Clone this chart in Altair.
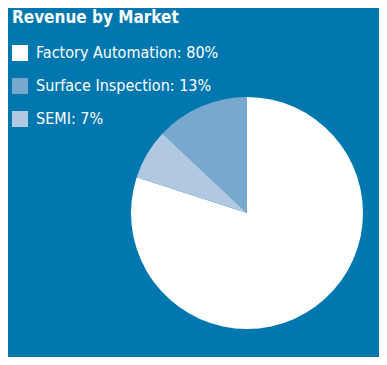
import altair as alt
import pandas as pd

markets = ["Factory Automation", "Surface Inspection", "SEMI"]
shares = [80, 13, 7]
pie_order = [0, 2, 1]  # clockwise drawing order from 12 o'clock
colors = ["#FFFFFF", "#79A8CE", "#B0C8E0"]
title = "Revenue by Market"

labels = [f"{m}: {s}%" for m, s in zip(markets, shares)]
df = pd.DataFrame({"label": labels, "share": shares, "ord": pie_order})

FONT = "DejaVu Sans Condensed"
BG = "#0077AE"

chart = alt.Chart(df).mark_arc(outerRadius=116, stroke=None).encode(
    theta=alt.Theta("share:Q", stack=True),
    order=alt.Order("ord:Q"),
    x=alt.value(239),
    y=alt.value(205),
    color=alt.Color(
        "label:N",
        scale=alt.Scale(domain=labels, range=colors),
        legend=alt.Legend(
            title=title,
            orient="none",
            legendX=4,
            legendY=2,
            symbolType="square",
            symbolSize=256,
            symbolStrokeWidth=0,
            symbolOpacity=1,
            labelFont=FONT,
            labelFontSize=16,
            labelColor="white",
            labelOffset=8,
            labelLimit=400,
            rowPadding=17,
            titleFont=FONT,
            titleFontSize=17,
            titleFontWeight="bold",
            titleColor="white",
            titleLimit=400,
            titlePadding=18,
            padding=0,
        ),
    ),
).properties(
    width=371,
    height=349,
    autosize=alt.AutoSizeParams(type="fit", contains="padding"),
    padding=0,
    background=BG,
).configure_view(stroke=None)

chart.save("out.html", embed_options={"renderer": "svg", "actions": False})
